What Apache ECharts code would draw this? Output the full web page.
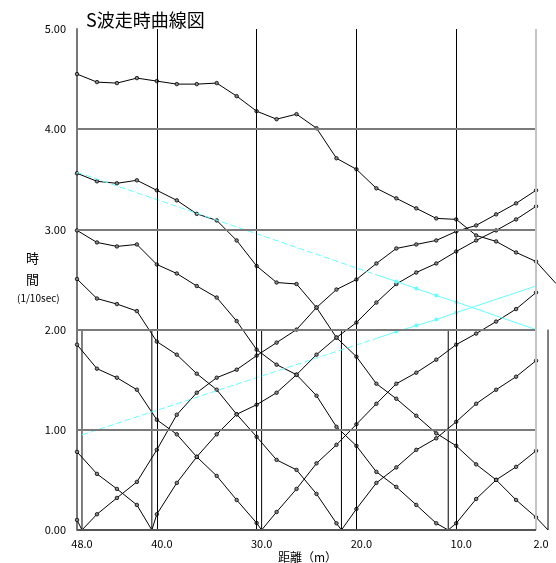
<!DOCTYPE html>
<html>
<head>
<meta charset="utf-8">
<script src="https://cdn.jsdelivr.net/npm/echarts@6/dist/echarts.min.js"></script>
<style>
html,body{margin:0;padding:0;background:#fff;}
#chart{width:556px;height:563px;}
</style>
</head>
<body>
<div id="chart"></div>
<script>
// ---- data ----
const titleText = 'S波走時曲線図';
const xTickLabels = [48, 40, 30, 20, 10, 2];
const yTickLabels = [0, 1, 2, 3, 4, 5];
const dist = [48,46,44,42,40,38,36,34,32,30,28,26,24,22,20,18,16,14,12,10,8,6,4,2];
const shots = [47.5, 40.5, 29.5, 21.5, 10.8, 0.8];
const shotLineTop = 2;
const tShot1 = [0.10,0.157,0.32,0.48,0.80,1.15,1.37,1.52,1.60,1.74,1.87,2.00,2.22,2.40,2.50,2.66,2.81,2.85,2.89,2.98,3.04,3.15,3.26,3.39];
const tShot2 = [0.78,0.56,0.41,0.25,0.157,0.47,0.73,0.955,1.155,1.25,1.37,1.55,1.75,1.92,2.07,2.27,2.455,2.57,2.66,2.78,2.89,2.99,3.10,3.23];
const tShot3 = [1.85,1.61,1.52,1.40,1.10,0.955,0.73,0.54,0.30,0.07,0.18,0.41,0.665,0.85,1.055,1.26,1.46,1.57,1.70,1.85,1.96,2.08,2.205,2.37];
const tShot4 = [2.505,2.31,2.255,2.185,1.88,1.75,1.56,1.40,1.155,0.93,0.70,0.60,0.36,0.067,0.21,0.47,0.625,0.80,0.915,1.08,1.26,1.40,1.53,1.69];
const tShot5 = [2.99,2.87,2.83,2.85,2.65,2.56,2.435,2.32,2.085,1.80,1.65,1.55,1.34,1.03,0.84,0.58,0.43,0.25,0.067,0.067,0.31,0.50,0.63,0.79];
const tShot6 = [3.56,3.48,3.46,3.49,3.39,3.29,3.155,3.09,2.89,2.635,2.47,2.455,2.22,1.92,1.73,1.46,1.31,1.14,0.965,0.84,0.655,0.50,0.30,0.127];
const tFar = [4.55,4.47,4.46,4.51,4.48,4.45,4.45,4.46,4.33,4.18,4.10,4.15,4.01,3.71,3.60,3.41,3.31,3.21,3.11,3.10,2.94,2.88,2.77,2.68];
const farTailX = [0];
const farTailT = [2.46];
const cyanDownX = [48, 18, 16, 14, 12, 10, 2];
const cyanDownT = [3.57, 2.547, 2.48, 2.41, 2.34, 2.275, 2.0];
const cyanUpX = [47.5, 18, 16, 14, 12, 10, 2];
const cyanUpT = [0.95, 1.912, 1.98, 2.04, 2.10, 2.17, 2.435];
const cyanSolidFrom = 18;
const cyanMarked = [16, 14, 12, 10];
const vGrid = [40, 30, 20, 10];
const hGrid = [1, 2, 3, 4];

// ---- build ----
const FONT = '"Noto Sans CJK JP", "DejaVu Sans", sans-serif';
const shotTimes = [tShot1, tShot2, tShot3, tShot4, tShot5, tShot6];
const xLeft = xTickLabels[0], xRight = xTickLabels[xTickLabels.length - 1];
const yBottom = yTickLabels[0], yTop = yTickLabels[yTickLabels.length - 1];

const markerStyle = { color: '#888', borderColor: '#000', borderWidth: 0.8 };

function shotSeries(times, shot) {
  const pts = [];
  let inserted = false;
  dist.forEach((d, j) => {
    if (!inserted && d < shot) { pts.push({ value: [shot, 0], symbol: 'none' }); inserted = true; }
    pts.push([d, times[j]]);
  });
  if (!inserted) pts.push({ value: [shot, 0], symbol: 'none' });
  return {
    type: 'line', data: pts, z: 3,
    symbol: 'circle', symbolSize: 3.5, showAllSymbol: true,
    lineStyle: { color: '#000', width: 1 },
    itemStyle: markerStyle
  };
}

function seg(x1, y1, x2, y2, color, width) {
  return [{ coord: [x1, y1], lineStyle: { color: color, width: width, type: 'solid' } }, { coord: [x2, y2] }];
}

const series = [];
// grid lines
series.push({
  type: 'line', data: [], z: 1, silent: true,
  markLine: {
    silent: true, symbol: ['none', 'none'], label: { show: false }, animation: false,
    data: [
      ...vGrid.map(v => seg(v, yBottom, v, yTop, '#000', 1)),
      ...hGrid.map(v => seg(xLeft, v, xRight, v, '#7a7a7a', 2)),
      seg(xRight, yBottom, xRight, yTop, '#c4c4c4', 2),
      seg(xLeft, yBottom, xRight, yBottom, '#555', 2)
    ]
  }
});
// shot position lines
shots.forEach(s => {
  series.push({
    type: 'line', data: [[s, 0], [s, shotLineTop]], z: 2, symbol: 'none',
    lineStyle: { color: '#000', width: 1 }
  });
});
// far shot curve
const farData = dist.map((d, j) => [d, tFar[j]]).concat(farTailX.map((d, j) => ({ value: [d, farTailT[j]], symbol: 'none' })));
series.push({
  type: 'line', data: farData, z: 3,
  symbol: 'circle', symbolSize: 3.5, showAllSymbol: true,
  lineStyle: { color: '#000', width: 1 },
  itemStyle: markerStyle
});
shotTimes.forEach((t, i) => series.push(shotSeries(t, shots[i])));

function cyanSeries(xs, ts) {
  const dashed = [], solid = [];
  xs.forEach((x, j) => {
    if (x >= cyanSolidFrom) dashed.push([x, ts[j]]);
    if (x <= cyanSolidFrom) {
      solid.push(cyanMarked.indexOf(x) >= 0 ? [x, ts[j]] : { value: [x, ts[j]], symbol: 'none' });
    }
  });
  return [
    { type: 'line', data: dashed, z: 4, symbol: 'none', lineStyle: { color: '#66ffff', width: 1, type: [6, 3] } },
    { type: 'line', data: solid, z: 4, symbol: 'circle', symbolSize: 4, showAllSymbol: true,
      lineStyle: { color: '#66ffff', width: 1 }, itemStyle: { color: '#66ffff', borderWidth: 0 } }
  ];
}
series.push(...cyanSeries(cyanDownX, cyanDownT));
series.push(...cyanSeries(cyanUpX, cyanUpT));

const chart = echarts.init(document.getElementById('chart'), null, { renderer: 'canvas' });
chart.setOption({
  animation: false,
  backgroundColor: '#fff',
  title: {
    text: titleText, left: 81, top: 6,
    textStyle: { fontFamily: FONT, fontSize: 18, fontWeight: 'normal', color: '#000' }
  },
  // x from 48 (left) to 0 (right, just outside the window) so marks beyond 2 m stay visible
  grid: { left: 77, top: 29, width: 480, height: 501, containLabel: false },
  xAxis: {
    type: 'value', min: 0, max: 48, inverse: true,
    axisLine: { show: false },
    axisTick: { show: false },
    splitLine: { show: false },
    axisLabel: {
      customValues: xTickLabels, showMinLabel: true, showMaxLabel: true,
      formatter: v => Number(v).toFixed(1), margin: 8, padding: [0, 0, 0, 10],
      fontFamily: FONT, fontSize: 11, color: '#000'
    }
  },
  yAxis: {
    type: 'value', min: yBottom, max: yTop, interval: 1,
    axisLine: { show: true, onZero: false, lineStyle: { color: '#777', width: 2 } },
    axisTick: { show: false },
    splitLine: { show: false },
    axisLabel: {
      formatter: v => Number(v).toFixed(2), margin: 11,
      fontFamily: FONT, fontSize: 11, color: '#000'
    }
  },
  graphic: [
    { type: 'text', left: 26, top: 252, style: { text: '時', font: '13px ' + FONT, fill: '#000' } },
    { type: 'text', left: 26, top: 273, style: { text: '間', font: '13px ' + FONT, fill: '#000' } },
    { type: 'text', left: 17, top: 293, style: { text: '(1/10sec)', font: '10px ' + FONT, fill: '#000' } },
    { type: 'text', left: 278, top: 551, style: { text: '距離（m）', font: '12px ' + FONT, fill: '#000' } }
  ],
  series: series
});
</script>
</body>
</html>
